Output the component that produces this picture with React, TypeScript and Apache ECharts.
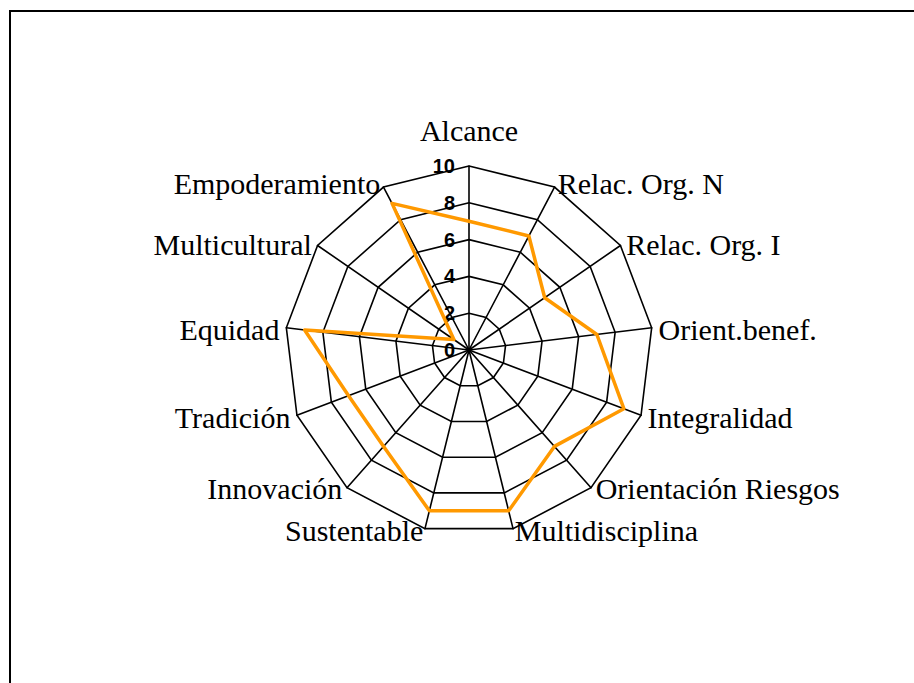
import React, { useEffect, useRef } from "react";
import * as echarts from "echarts";

// Indicators in clockwise order starting at the top
const categories = [
  "Alcance",
  "Relac. Org. N",
  "Relac. Org. I",
  "Orient.benef.",
  "Integralidad",
  "Orientación Riesgos",
  "Multidisciplina",
  "Sustentable",
  "Innovación",
  "Tradición",
  "Equidad",
  "Multicultural",
  "Empoderamiento",
];
const values = [7, 7, 5, 7, 9, 7, 9, 9, 7, 7, 9, 1, 9];
const axisMin = 0;
const axisMax = 10;
const splitCount = 5;

// label text style per indicator position (clockwise index)
const nameStyleKey = ["top", "s", "s", "s", "m", "b", "b", "b", "b", "m", "s", "s", "s"];

export default function App() {
  const ref = useRef<HTMLDivElement>(null);
  useEffect(() => {
    const chart = echarts.init(ref.current!, null, { renderer: "svg" });
    const n = categories.length;
    // ECharts places indicators counter-clockwise; reorder to get clockwise layout
    const order = [0];
    for (let i = n - 1; i >= 1; i--) order.push(i);
    const indicator = order.map((i, k) => {
      const base: any = { name: categories[i], min: axisMin, max: axisMax };
      if (k === 0) {
        base.axisLabel = {
          show: true,
          color: "#000",
          fontFamily: "Liberation Sans",
          fontWeight: "bold",
          fontSize: 20,
          margin: 14,
        };
      }
      return base;
    });
    const data = order.map((i) => values[i]);
    const txt = { fontFamily: "Liberation Serif", fontSize: 30, color: "#000" };
    chart.setOption({
      animation: false,
      backgroundColor: "#fff",
      graphic: [
        {
          type: "rect",
          shape: { x: 10, y: 11, width: 920, height: 700 },
          style: { fill: "none", stroke: "#000", lineWidth: 2 },
          silent: true,
        },
      ],
      radar: {
        center: [469, 350],
        radius: 184,
        startAngle: 90,
        splitNumber: splitCount,
        shape: "polygon",
        nameGap: 7,
        axisName: {
          ...txt,
          formatter: (name: string) => {
            const idx = categories.indexOf(name);
            return "{" + nameStyleKey[idx] + "|" + name + "}";
          },
          rich: {
            top: { ...txt, padding: [0, 0, 14, 0] },
            s: { ...txt, padding: [6, 0, 0, 0] },
            m: { ...txt, padding: [0, 0, 0, 0] },
            b: { ...txt, padding: [0, 0, 9, 0] },
          },
        },
        axisLine: { lineStyle: { color: "#000", width: 1.6 } },
        splitLine: { lineStyle: { color: "#000", width: 1.6 } },
        splitArea: { show: false },
        axisTick: { show: false },
        axisLabel: { show: false },
        indicator,
      },
      series: [
        {
          type: "radar",
          symbol: "none",
          data: [
            {
              value: data,
              lineStyle: { color: "#FF9900", width: 3.5 },
            },
          ],
        },
      ],
    });
    return () => chart.dispose();
  }, []);
  return (
    <div
      ref={ref}
      style={{ position: "absolute", left: 0, top: 0, width: 914, height: 683, background: "#fff" }}
    />
  );
}
